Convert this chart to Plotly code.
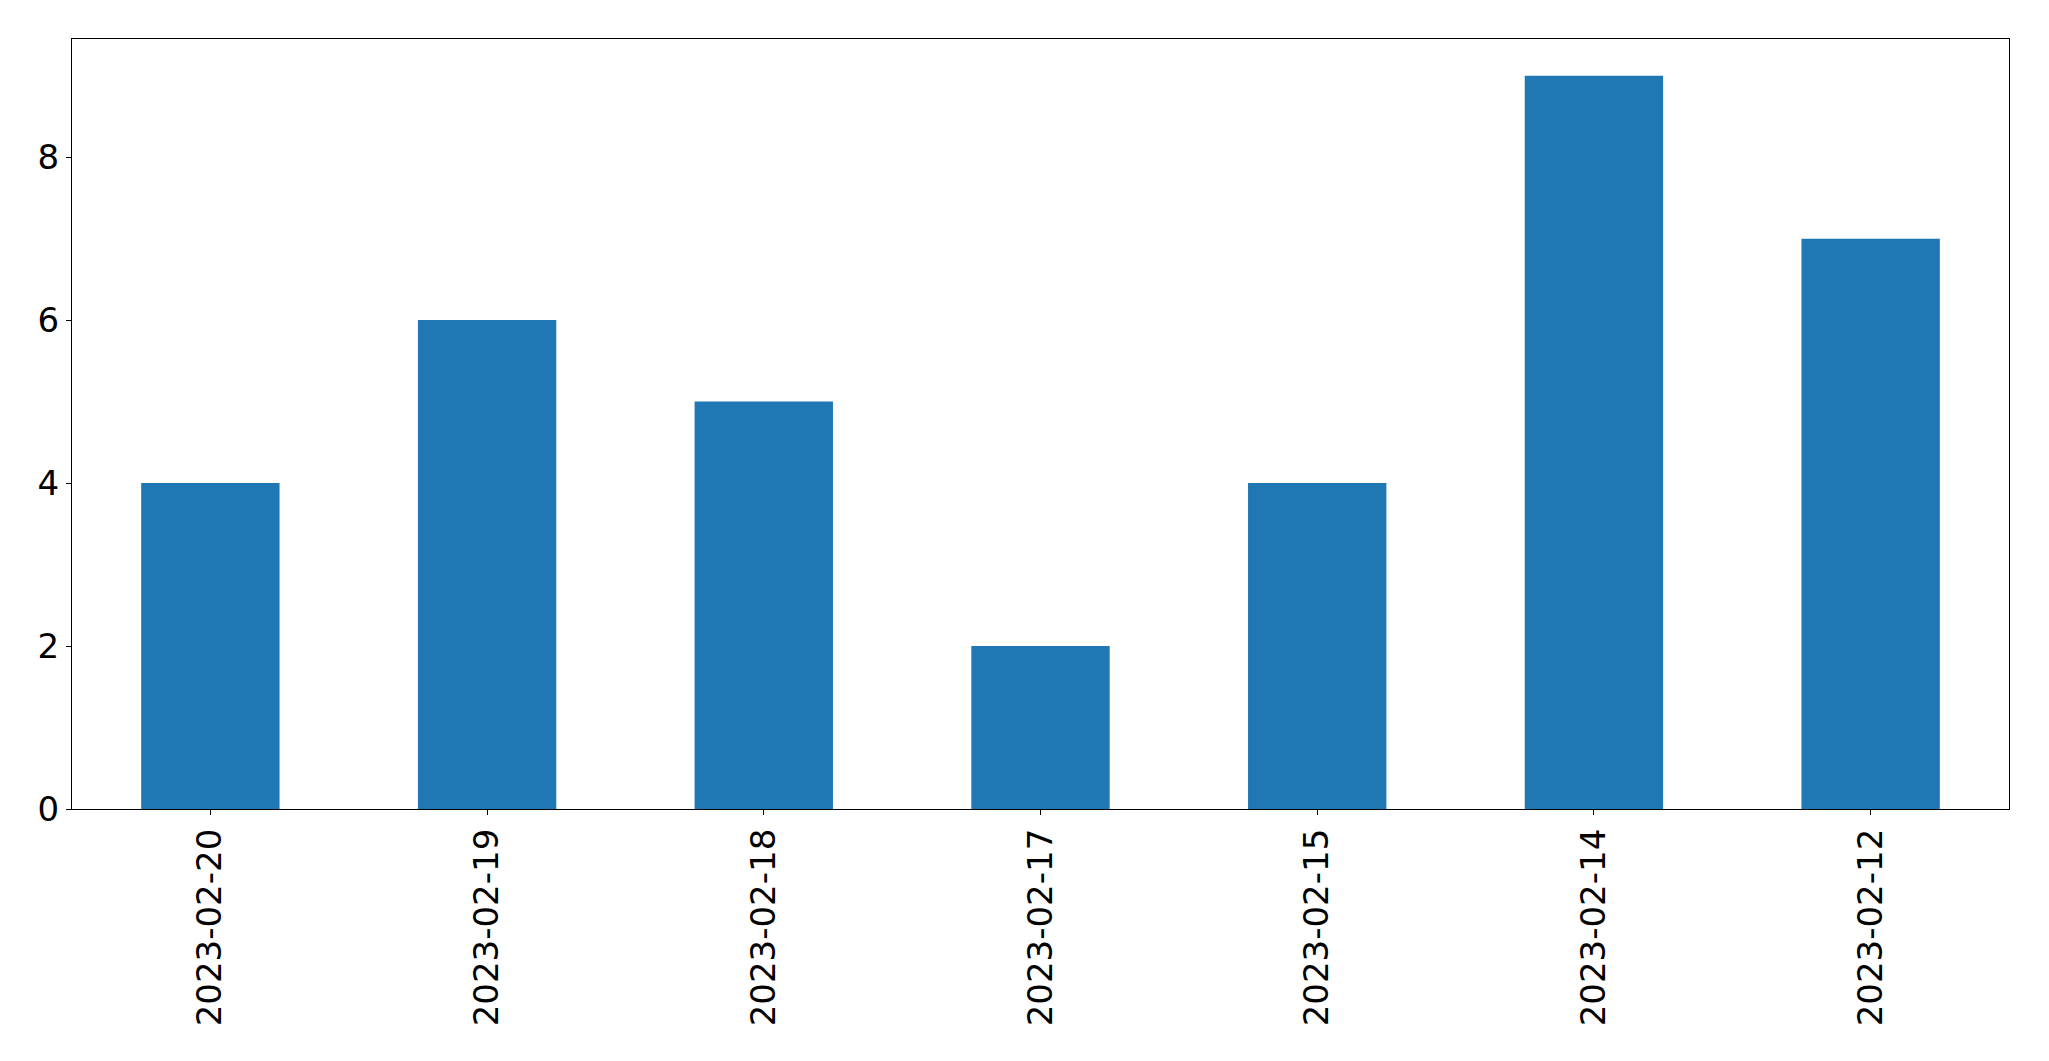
import plotly.graph_objects as go

dates = ["2023-02-20", "2023-02-19", "2023-02-18", "2023-02-17", "2023-02-15", "2023-02-14", "2023-02-12"]
counts = [4, 6, 5, 2, 4, 9, 7]
y_ticks = [0, 2, 4, 6, 8]

fig = go.Figure(go.Bar(x=dates, y=counts, width=0.5, marker=dict(color="#1f77b4", line=dict(width=0))))

font = dict(family="DejaVu Sans", size=34, color="black")
# page body has an 8px default margin; compensate so the plot area lands where the reference has it
fig.update_layout(
    width=2041, height=1053,
    margin=dict(l=64, r=40, t=31, b=252),
    paper_bgcolor="white", plot_bgcolor="white",
    showlegend=False, font=font,
)
fig.update_xaxes(
    type="category", range=[-0.5, 6.5], tickangle=-90,
    showline=True, linecolor="black", linewidth=1.3, mirror=True,
    ticks="outside", ticklen=5, tickwidth=1.3, tickcolor="black",
    showgrid=False, zeroline=False, tickfont=font,
)
fig.update_yaxes(
    range=[0, 9.45], tickvals=y_ticks,
    showline=True, linecolor="black", linewidth=1.3, mirror=True,
    ticks="outside", ticklen=5, tickwidth=1.3, tickcolor="black",
    showgrid=False, zeroline=False, tickfont=font,
)
fig.write_html("out.html")
